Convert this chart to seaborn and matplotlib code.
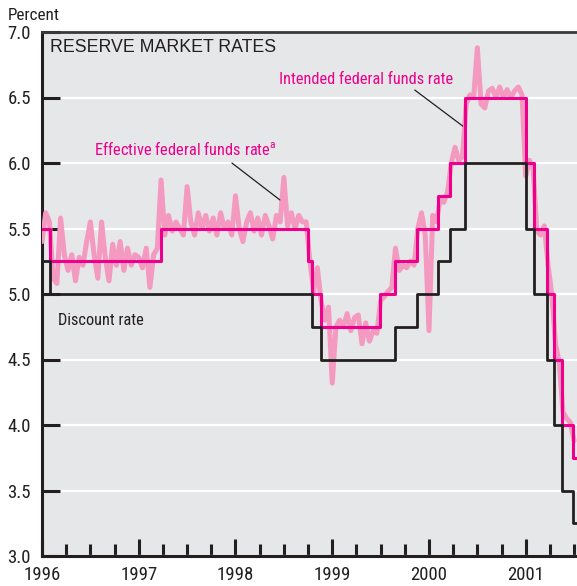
import numpy as np
import pandas as pd
import matplotlib
matplotlib.use('Agg')
import matplotlib.pyplot as plt
from matplotlib.ticker import MultipleLocator, FixedLocator, FormatStrFormatter
import seaborn as sns

# Colours
magenta = '#ec008c'
pink = '#f49ac1'
dark = '#231f20'
panel = '#e6e7e8'

# Intended federal funds rate: change dates (decimal years) and new level
intended_dates = [1996.0, 1996.083, 1997.23, 1998.745, 1998.79, 1998.88, 1999.49, 1999.645,
                  1999.875, 2000.09, 2000.22, 2000.37, 2001.008, 2001.085, 2001.215,
                  2001.295, 2001.37, 2001.49, 2001.53]
intended_rate = [5.5, 5.25, 5.5, 5.25, 5.0, 4.75, 5.0, 5.25,
                 5.5, 5.75, 6.0, 6.5, 6.0, 5.5, 5.0,
                 4.5, 4.0, 3.75, 3.75]

# Discount rate
discount_dates = [1996.0, 1996.083, 1998.79, 1998.88, 1999.645, 1999.875, 2000.09, 2000.22,
                  2000.37, 2001.008, 2001.085, 2001.215, 2001.295, 2001.37, 2001.49, 2001.53]
discount_rate = [5.25, 5.0, 4.75, 4.5, 4.75, 5.0, 5.25, 5.5,
                 6.0, 5.5, 5.0, 4.5, 4.0, 3.5, 3.25, 3.25]

# Effective federal funds rate, biweekly readings
eff_1996 = [5.40, 5.62, 5.55, 5.12, 5.08, 5.58, 5.30, 5.18, 5.30, 5.10, 5.28, 5.22, 5.40,
            5.55, 5.30, 5.12, 5.55, 5.28, 5.10, 5.38, 5.22, 5.40, 5.18, 5.35, 5.22, 5.30]
eff_1997 = [5.28, 5.20, 5.35, 5.05, 5.30, 5.35, 5.87, 5.45, 5.60, 5.48, 5.55, 5.50, 5.45,
            5.82, 5.55, 5.45, 5.62, 5.50, 5.60, 5.48, 5.58, 5.45, 5.62, 5.50, 5.55, 5.45]
eff_1998 = [5.75, 5.50, 5.40, 5.55, 5.62, 5.48, 5.58, 5.45, 5.60, 5.52, 5.42, 5.60, 5.55,
            5.89, 5.52, 5.62, 5.50, 5.60, 5.55, 5.55, 5.25, 5.02, 5.20, 4.95, 4.80, 4.90]
eff_1999 = [4.32, 4.75, 4.80, 4.75, 4.85, 4.72, 4.82, 4.84, 4.62, 4.78, 4.64, 4.72, 4.70,
            4.95, 4.98, 5.02, 5.05, 5.35, 5.18, 5.22, 5.20, 5.25, 5.22, 5.50, 5.62, 5.45]
eff_2000 = [4.72, 5.60, 5.55, 5.72, 5.70, 5.78, 6.00, 6.12, 6.02, 6.05, 6.45, 6.52, 6.50,
            6.88, 6.45, 6.42, 6.55, 6.57, 6.50, 6.58, 6.50, 6.56, 6.50, 6.55, 6.58, 6.52]
eff_2001 = [5.90, 6.02, 5.95, 5.48, 5.45, 5.52, 5.22, 5.00, 4.62, 4.48, 4.10, 4.05, 4.02, 3.88]

eff_rate = eff_1996 + eff_1997 + eff_1998 + eff_1999 + eff_2000 + eff_2001
eff_dates = 1996 + np.arange(len(eff_rate)) / 26

effective = pd.DataFrame({'date': eff_dates, 'rate': eff_rate})
intended = pd.DataFrame({'date': intended_dates, 'rate': intended_rate})
discount = pd.DataFrame({'date': discount_dates, 'rate': discount_rate})

sns.set_style('white', {'axes.facecolor': panel})
plt.rcParams['font.family'] = ['Roboto Condensed', 'Archivo Narrow', 'Liberation Sans', 'DejaVu Sans']
plt.rcParams['mathtext.fontset'] = 'custom'
plt.rcParams['mathtext.rm'] = 'Roboto Condensed'

fig = plt.figure(figsize=(5.77, 5.86), dpi=100)
ax = fig.add_axes([42 / 577, 30 / 586, 1 - 42 / 577, (556 - 32) / 586])

sns.lineplot(data=effective, x='date', y='rate', ax=ax, color=pink, lw=3.6,
             solid_joinstyle='round', zorder=3)
sns.lineplot(data=intended, x='date', y='rate', ax=ax, color=magenta, lw=2.2,
             drawstyle='steps-post', zorder=4)
sns.lineplot(data=discount, x='date', y='rate', ax=ax, color=dark, lw=2.0,
             drawstyle='steps-post', zorder=5)

ax.set_xlim(1996, 2001.53)
ax.set_ylim(3.0, 7.0)
ax.set_xlabel('')
ax.set_ylabel('')

ax.yaxis.set_major_locator(MultipleLocator(0.5))
ax.yaxis.set_major_formatter(FormatStrFormatter('%.1f'))
ax.xaxis.set_major_locator(FixedLocator([1996, 1997, 1998, 1999, 2000, 2001]))
ax.xaxis.set_major_formatter(FormatStrFormatter('%d'))
ax.xaxis.set_minor_locator(MultipleLocator(0.25))

ax.grid(axis='y', color='white', lw=1.6, zorder=1)
ax.set_axisbelow(True)

ax.tick_params(axis='y', left=True, direction='in', length=13, width=2.2, color=dark,
               labelsize=13.5, labelcolor=dark, pad=8)
ax.tick_params(axis='x', which='major', bottom=True, direction='in', length=12.5, width=2.2,
               color=dark, labelsize=13.5, labelcolor=dark, pad=7)
ax.tick_params(axis='x', which='minor', bottom=True, direction='in', length=9, width=2.2,
               color=dark)

for side in ['left', 'bottom']:
    ax.spines[side].set_color(dark)
    ax.spines[side].set_linewidth(2.2)
ax.spines['top'].set_color('#3a3a3a')
ax.spines['top'].set_linewidth(2.0)
ax.spines['right'].set_visible(False)

# Annotations
ax.text(1996.083, 6.885, 'RESERVE MARKET RATES', color=dark, fontsize=12.8,
        family=['Liberation Sans', 'DejaVu Sans'], va='center', ha='left')
ax.text(1996.537, 6.107, r'Effective federal funds rate$^{\rm a}$', color=magenta,
        fontsize=11.8, va='center', ha='left')
ax.plot([1997.963, 1998.459], [6.0, 5.718], color=dark, lw=0.9, zorder=6)
ax.text(1998.448, 6.634, 'Intended federal funds rate', color=magenta,
        fontsize=11.8, va='center', ha='left')
ax.plot([1999.853, 2000.349], [6.557, 6.282], color=dark, lw=0.9, zorder=6)
ax.text(1996.165, 4.80, 'Discount rate', color=dark, fontsize=11.8,
        va='center', ha='left')

fig.text(8 / 577, 1 - 16 / 586, 'Percent', color=dark, fontsize=12.3,
         va='center', ha='left')

fig.savefig('out.png', dpi=100)
